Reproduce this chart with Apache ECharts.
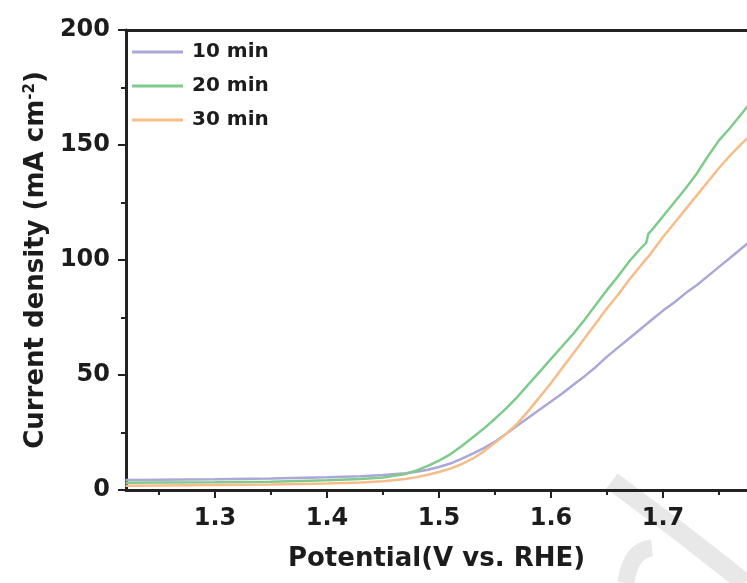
<!DOCTYPE html>
<html>
<head>
<meta charset="utf-8">
<script src="https://cdn.jsdelivr.net/npm/echarts@6/dist/echarts.min.js"></script>
<style>
  html, body { margin: 0; padding: 0; background: #fff; }
  #chart { width: 747px; height: 583px; }
</style>
</head>
<body>
<div id="chart"></div>
<script>
// Polarisation curves (LSV) for three deposition times
const potential = [1.22, 1.25, 1.30, 1.35, 1.40, 1.43, 1.45, 1.47, 1.48, 1.49, 1.50, 1.51, 1.52, 1.53, 1.54, 1.55, 1.56, 1.57, 1.58, 1.59, 1.60, 1.61, 1.62, 1.63, 1.64, 1.65, 1.66, 1.67, 1.68, 1.685, 1.687, 1.69, 1.70, 1.71, 1.72, 1.73, 1.74, 1.75, 1.76, 1.77, 1.78, 1.79];

const current10 = [4.4, 4.5, 4.7, 5.0, 5.5, 6.0, 6.5, 7.3, 7.9, 8.8, 10.0, 11.5, 13.5, 15.8, 18.2, 21, 24.5, 28, 31.5, 35, 38.5, 42, 45.8, 49.5, 53.5, 58, 62, 66, 70, 72, 72.8, 74, 78, 81.5, 85.5, 89, 93, 97, 101, 105, 109, 113];

const current20 = [3.2, 3.3, 3.4, 3.6, 4.2, 4.8, 5.4, 7.0, 8.5, 10.5, 12.8, 15.5, 19, 22.8, 26.7, 31, 35.5, 40.5, 46, 51.5, 57, 62.5, 68, 74, 80.5, 87, 93, 99.5, 105, 107.5, 111.5, 113, 119, 125, 131, 137.5, 145, 152, 157.5, 163.5, 169.5, 175.5];

const current30 = [1.9, 2.0, 2.2, 2.4, 2.8, 3.3, 3.8, 4.8, 5.6, 6.6, 7.8, 9.3, 11.2, 13.6, 16.8, 20.5, 24.5, 29, 34.5, 40.5, 46.5, 53, 59.5, 66, 72.5, 79, 85, 91.5, 97.5, 100.5, 101.5, 103.5, 110, 116, 122, 128, 134, 140, 145.5, 150.5, 155, 159.5];

const seriesNames = ['10 min', '20 min', '30 min'];
const seriesColors = ['#aba7d7', '#7fcb8c', '#f6bd89'];

const xMajorTicks = [1.3, 1.4, 1.5, 1.6, 1.7];
const xMinorTicks = [1.25, 1.35, 1.45, 1.55, 1.65, 1.75];
const xMin = 1.2205;
const xMax = 1.775;

const FONT = 'DejaVu Sans';
const INK = '#1c1c1c';

function pairs(values) {
  return potential.map((p, i) => [p, values[i]]);
}

const chart = echarts.init(document.getElementById('chart'), null, { renderer: 'canvas' });

const lineSeries = [current10, current20, current30].map((vals, i) => ({
  name: seriesNames[i],
  type: 'line',
  xAxisIndex: 0,
  yAxisIndex: 0,
  data: pairs(vals),
  showSymbol: false,
  symbol: 'none',
  clip: true,
  lineStyle: { color: seriesColors[i], width: 2.5 },
  itemStyle: { color: seriesColors[i] },
  z: 3
}));

chart.setOption({
  animation: false,
  backgroundColor: '#ffffff',
  grid: { left: 126, top: 30, right: 0, bottom: 93, containLabel: false },
  legend: {
    orient: 'vertical',
    left: 132,
    top: 42,
    padding: 0,
    icon: 'rect',
    itemWidth: 51,
    itemHeight: 3,
    itemGap: 14,
    data: seriesNames,
    textStyle: { fontFamily: FONT, fontWeight: 'bold', fontSize: 20, color: INK, padding: [0, 0, 0, 4] }
  },
  xAxis: [
    {
      type: 'value',
      position: 'bottom',
      min: xMin,
      max: xMax,
      axisLine: { show: true, onZero: false, lineStyle: { color: '#222', width: 3 } },
      axisTick: { show: true, customValues: xMajorTicks, length: 8, lineStyle: { color: '#222', width: 2 } },
      axisLabel: {
        show: true,
        customValues: xMajorTicks,
        formatter: v => v.toFixed(1),
        fontFamily: FONT, fontWeight: 'bold', fontSize: 24, color: INK, margin: 17
      },
      splitLine: { show: false },
      name: 'Potential(V vs. RHE)',
      nameLocation: 'middle',
      nameGap: 56,
      nameTextStyle: { fontFamily: FONT, fontWeight: 'bold', fontSize: 26, color: INK }
    },
    {
      type: 'value',
      position: 'bottom',
      min: xMin,
      max: xMax,
      axisLine: { show: false, onZero: false },
      axisTick: { show: true, customValues: xMinorTicks, length: 5, lineStyle: { color: '#222', width: 2 } },
      axisLabel: { show: false },
      splitLine: { show: false }
    },
    {
      type: 'value',
      position: 'top',
      min: xMin,
      max: xMax,
      axisLine: { show: true, onZero: false, lineStyle: { color: '#222', width: 3 } },
      axisTick: { show: false },
      axisLabel: { show: false },
      splitLine: { show: false }
    }
  ],
  yAxis: {
    type: 'value',
    min: 0,
    max: 200,
    interval: 50,
    axisLine: { show: true, onZero: false, lineStyle: { color: '#222', width: 3 } },
    axisTick: { show: true, length: 8, lineStyle: { color: '#222', width: 2 } },
    minorTick: { show: true, splitNumber: 2, length: 5, lineStyle: { color: '#222', width: 2 } },
    axisLabel: { fontFamily: FONT, fontWeight: 'bold', fontSize: 24, color: INK, margin: 16 },
    splitLine: { show: false },
    minorSplitLine: { show: false },
    name: '{a|Current density (mA cm}{s|-2}{a|)}',
    nameLocation: 'middle',
    nameRotate: 90,
    nameGap: 74,
    nameTextStyle: {
      rich: {
        a: { fontFamily: FONT, fontWeight: 'bold', fontSize: 26, color: INK },
        s: { fontFamily: FONT, fontWeight: 'bold', fontSize: 15, color: INK, verticalAlign: 'top', padding: [0, 0, 10, 0] }
      }
    }
  },
  graphic: [
    {
      type: 'polyline',
      z: -1,
      silent: true,
      shape: { points: [[612, 481], [680, 532], [745, 583]] },
      style: { stroke: '#e8e8e8', lineWidth: 19, fill: null }
    },
    {
      type: 'bezierCurve',
      z: -1,
      silent: true,
      shape: { x1: 652, y1: 548, x2: 626, y2: 583, cpx1: 630, cpy1: 550 },
      style: { stroke: '#e8e8e8', lineWidth: 17, fill: null }
    }
  ],
  series: lineSeries
});
</script>
</body>
</html>
